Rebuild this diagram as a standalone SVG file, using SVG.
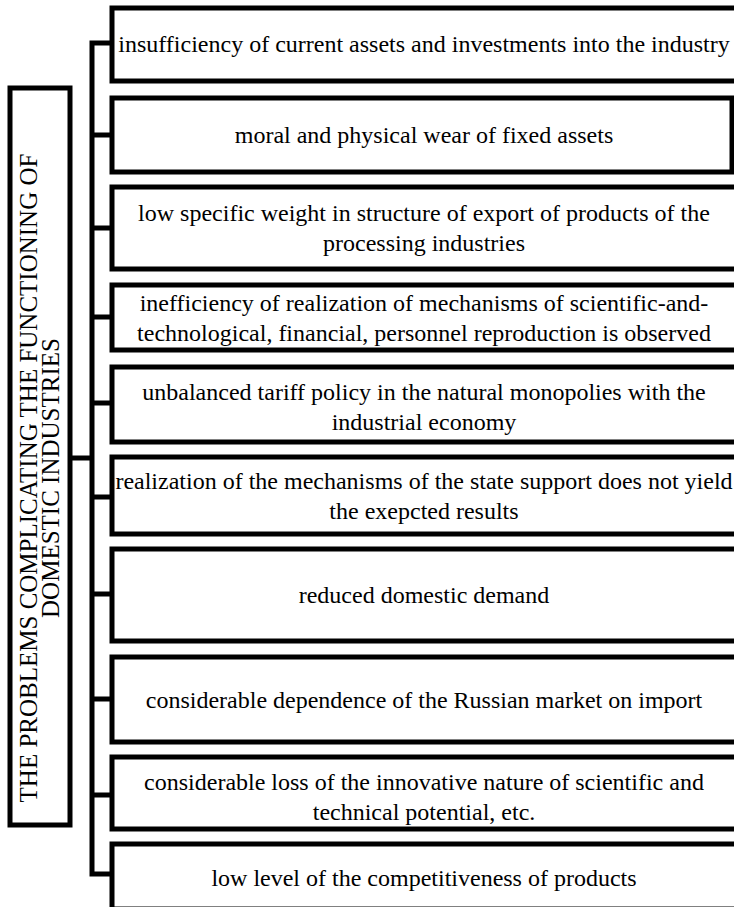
<svg xmlns="http://www.w3.org/2000/svg" width="734" height="907" viewBox="0 0 734 907">
<style>
.box{fill:#fff;stroke:#000;stroke-width:5}
.ln{fill:none;stroke:#000;stroke-width:5}
.t{font-family:"Liberation Serif","Times New Roman",serif;font-size:24px;fill:#000;text-anchor:middle}
.v{font-family:"Liberation Serif","Times New Roman",serif;font-size:25px;fill:#000;text-anchor:middle}
</style>
<rect width="734" height="907" fill="#fff"/>
<g id="connectors">
<path class="ln" d="M112 43 H92 V874 H112"/>
<path class="ln" d="M72 458 H92"/>
<path class="ln" d="M92 135 H112 M92 228 H112 M92 317 H112 M92 403 H112 M92 497 H112 M92 594 H112 M92 699 H112 M92 795 H112"/>
</g>
<g id="root">
<rect class="box" x="10" y="88" width="60" height="737"/>
<text class="v" transform="translate(37,478) rotate(-90)">THE PROBLEMS COMPLICATING THE FUNCTIONING OF</text>
<text class="v" transform="translate(59,478) rotate(-90)">DOMESTIC INDUSTRIES</text>
</g>
<g id="n1"><rect class="box" x="112" y="8" width="630" height="73"/><text class="t" x="424" y="52">insufficiency of current assets and investments into the industry</text></g>
<g id="n2"><rect class="box" x="112" y="98" width="620" height="74"/><text class="t" x="424" y="143">moral and physical wear of fixed assets</text></g>
<g id="n3"><rect class="box" x="112" y="187" width="630" height="82"/><text class="t" x="424" y="221">low specific weight in structure of export of products of the</text><text class="t" x="424" y="251">processing industries</text></g>
<g id="n4"><rect class="box" x="112" y="285" width="630" height="65"/><text class="t" x="424" y="311">inefficiency of realization of mechanisms of scientific-and-</text><text class="t" x="424" y="341">technological, financial, personnel reproduction is observed</text></g>
<g id="n5"><rect class="box" x="112" y="367" width="630" height="75"/><text class="t" x="424" y="400">unbalanced tariff policy in the natural monopolies with the</text><text class="t" x="424" y="430">industrial economy</text></g>
<g id="n6"><rect class="box" x="112" y="457" width="630" height="77"/><text class="t" x="424" y="489">realization of the mechanisms of the state support does not yield</text><text class="t" x="424" y="519">the exepcted results</text></g>
<g id="n7"><rect class="box" x="112" y="549" width="630" height="92"/><text class="t" x="424" y="603">reduced domestic demand</text></g>
<g id="n8"><rect class="box" x="112" y="657" width="630" height="85"/><text class="t" x="424" y="708">considerable dependence of the Russian market on import</text></g>
<g id="n9"><rect class="box" x="112" y="757" width="630" height="72"/><text class="t" x="424" y="790">considerable loss of the innovative nature of scientific and</text><text class="t" x="424" y="820">technical potential, etc.</text></g>
<g id="n10"><rect class="box" x="112" y="844" width="630" height="65"/><text class="t" x="424" y="886">low level of the competitiveness of products</text></g>
</svg>
